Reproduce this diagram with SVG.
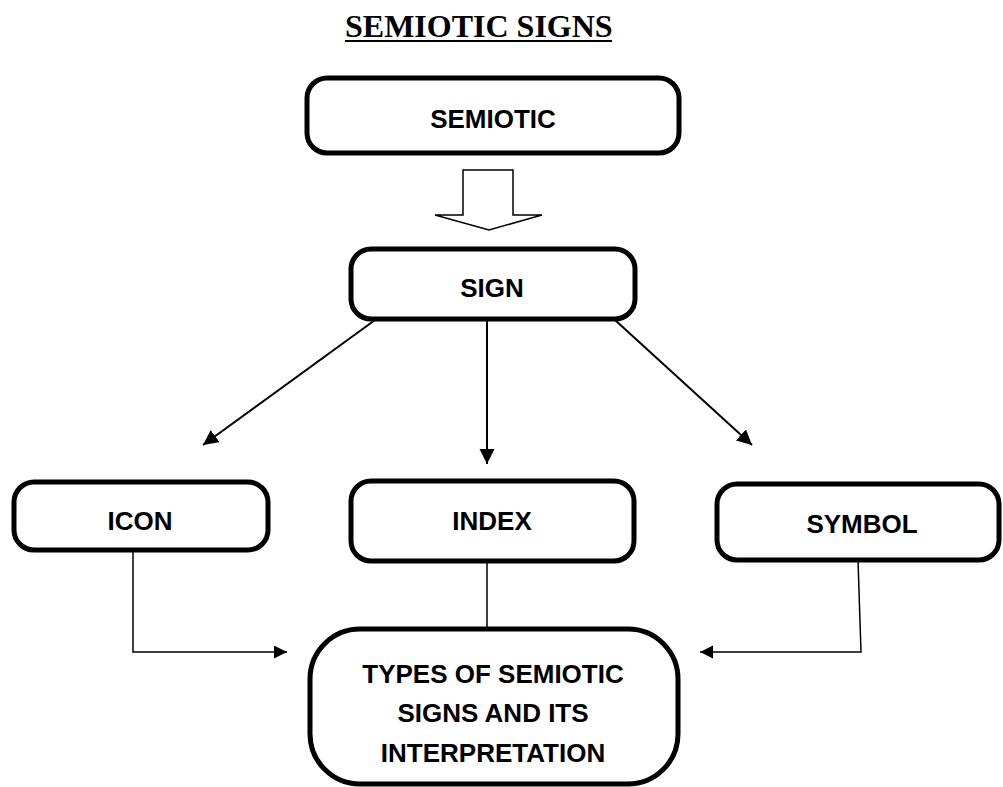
<svg xmlns="http://www.w3.org/2000/svg" width="1003" height="787" viewBox="0 0 1003 787">
<style>
.box{fill:#fff;stroke:#000;stroke-width:5}
.lbl{font-family:"Liberation Sans",Arial,sans-serif;font-weight:bold;font-size:26px;fill:#000;text-anchor:middle}
.title{font-family:"Liberation Serif","Times New Roman",serif;font-weight:bold;font-size:32px;fill:#000}
.c1{fill:none;stroke:#000;stroke-width:2}
.c2{fill:none;stroke:#000;stroke-width:1.5}
</style>
<defs>
<marker id="ah" markerUnits="userSpaceOnUse" markerWidth="16" markerHeight="16" refX="15" refY="7.5" orient="auto"><path d="M0,0 L15,7.5 L0,15 Z" fill="#000"/></marker>
<marker id="as" markerUnits="userSpaceOnUse" markerWidth="14" markerHeight="14" refX="13" refY="6.5" orient="auto"><path d="M0,0 L13,6.5 L0,13 Z" fill="#000"/></marker>
</defs>
<g id="title">
<text class="title" x="345" y="37">SEMIOTIC SIGNS</text>
<line x1="345" y1="41" x2="612" y2="41" stroke="#000" stroke-width="2"/>
</g>
<g id="connectors">
<polygon points="463,170 513,170 513,215 542,215 489,230 435,215 463,215" fill="#fff" stroke="#000" stroke-width="1.5"/>
<line class="c1" x1="375" y1="320" x2="203" y2="445" marker-end="url(#ah)"/>
<line class="c1" x1="487" y1="320" x2="487" y2="464" marker-end="url(#ah)"/>
<line class="c1" x1="615" y1="320" x2="752" y2="445" marker-end="url(#ah)"/>
<polyline class="c2" points="133,551 133,652 287,652" marker-end="url(#as)"/>
<line class="c2" x1="487" y1="562" x2="487" y2="628"/>
<polyline class="c2" points="858,560 861,652 700,652" marker-end="url(#as)"/>
</g>
<g id="semiotic">
<rect class="box" x="307" y="78" width="372" height="75" rx="20"/>
<text class="lbl" x="493" y="128">SEMIOTIC</text>
</g>
<g id="sign">
<rect class="box" x="351" y="249" width="284" height="70" rx="20"/>
<text class="lbl" x="492" y="297">SIGN</text>
</g>
<g id="icon">
<rect class="box" x="14" y="482" width="254" height="68" rx="20"/>
<text class="lbl" x="140" y="530">ICON</text>
</g>
<g id="index">
<rect class="box" x="351" y="481" width="283" height="80" rx="20"/>
<text class="lbl" x="492" y="530">INDEX</text>
</g>
<g id="symbol">
<rect class="box" x="717" y="484" width="282" height="76" rx="20"/>
<text class="lbl" x="862" y="533">SYMBOL</text>
</g>
<g id="types">
<rect class="box" x="310" y="629" width="368" height="155" rx="50"/>
<text class="lbl" x="493" y="683">TYPES OF SEMIOTIC</text>
<text class="lbl" x="493" y="722">SIGNS AND ITS</text>
<text class="lbl" x="493" y="762">INTERPRETATION</text>
</g>
</svg>
